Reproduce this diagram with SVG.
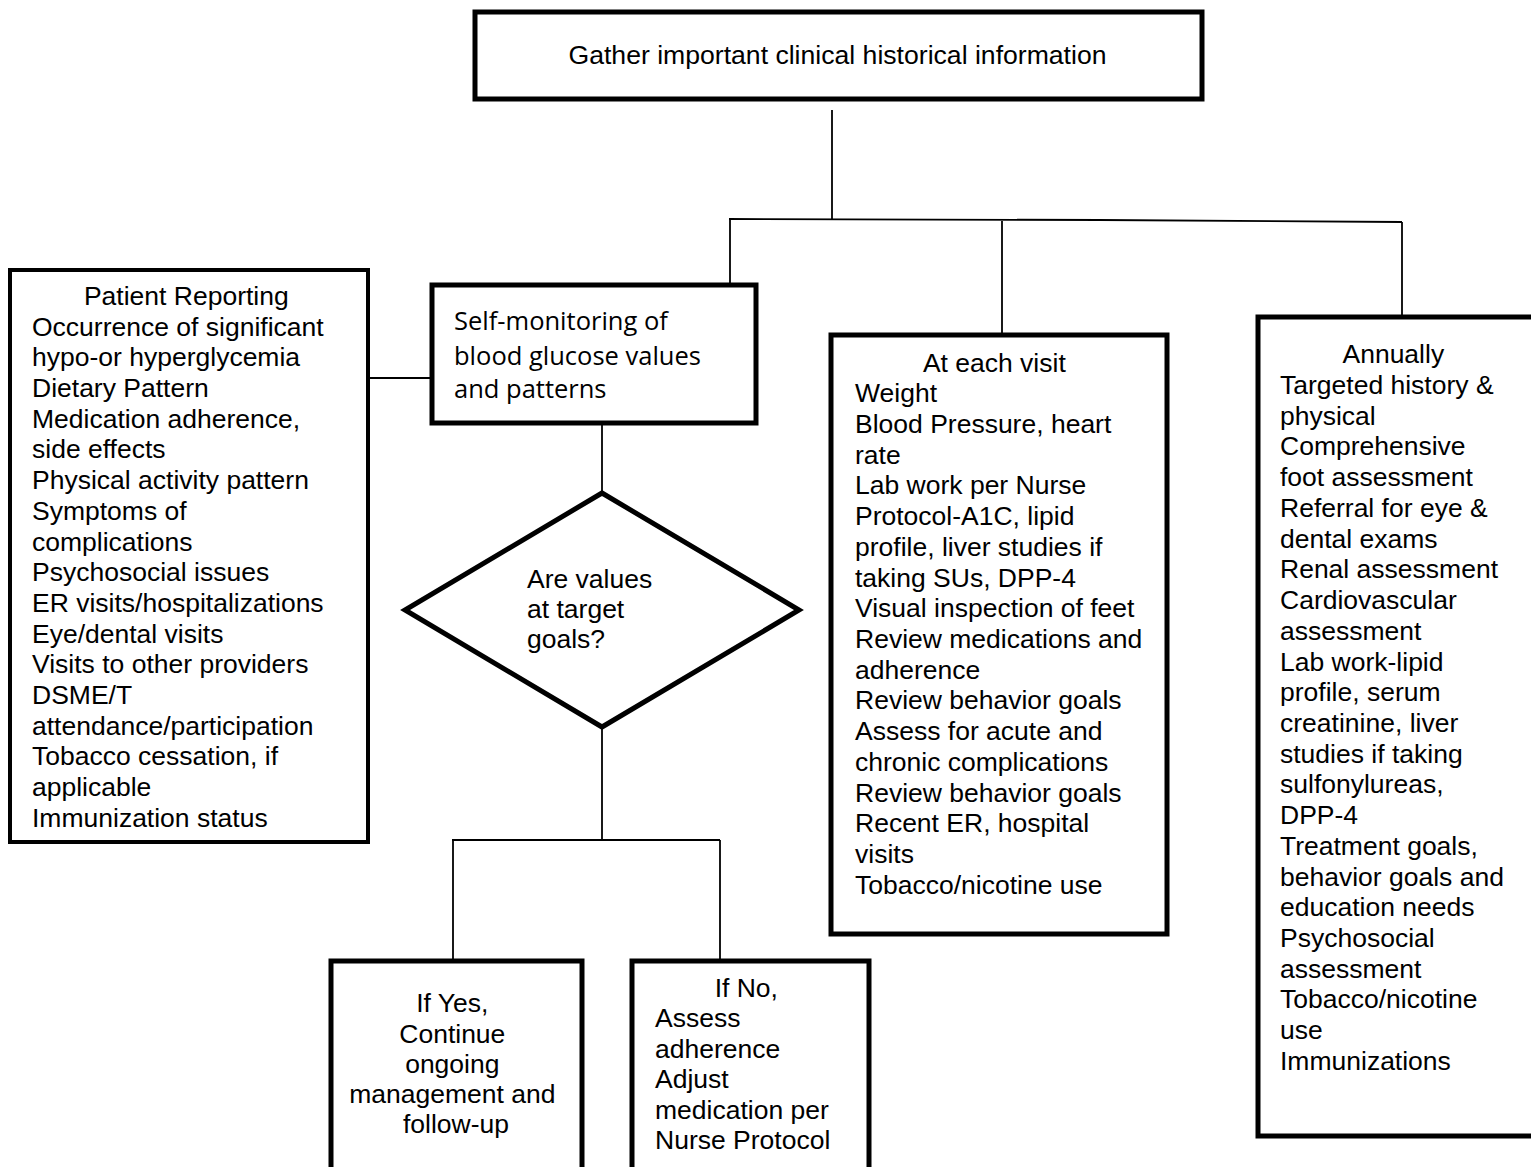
<svg xmlns="http://www.w3.org/2000/svg" width="1531" height="1167" viewBox="0 0 1531 1167">
<style>
.box{fill:#fff;stroke:#000;stroke-width:5}
.thin{stroke-width:4}
.ln{stroke:#000;stroke-width:1.8;fill:none}
.t{font-family:"Liberation Sans",Arial,sans-serif;font-size:26.5px;fill:#000}
.c{text-anchor:middle}
.cal{font-family:"Open Sans","Noto Sans",sans-serif;font-size:25.5px;fill:#000}
</style>
<rect width="1531" height="1167" fill="#fff"/>
<g id="connectors">
<line class="ln" x1="832" y1="110" x2="832" y2="219"/>
<polyline class="ln" points="729,219 1100,220 1402,222"/>
<line class="ln" x1="730" y1="219" x2="730" y2="285"/>
<line class="ln" x1="1002" y1="221" x2="1002" y2="335"/>
<line class="ln" x1="1402" y1="222" x2="1402" y2="317"/>
<line class="ln" x1="368" y1="378" x2="432" y2="378"/>
<line class="ln" x1="602" y1="423" x2="602" y2="493"/>
<line class="ln" x1="602" y1="727" x2="602" y2="840"/>
<line class="ln" x1="452" y1="840" x2="720" y2="840"/>
<line class="ln" x1="453" y1="840" x2="453" y2="961"/>
<line class="ln" x1="720" y1="840" x2="720" y2="961"/>
</g>
<g id="gather">
<rect class="box" x="475" y="12" width="727" height="87"/>
<text class="t c" x="837.5" y="64" style="font-size:26.6px">Gather important clinical historical information</text>
</g>
<g id="patient-reporting">
<rect class="box thin" x="10" y="270" width="358" height="572"/>
<text class="t">
<tspan x="190" y="305" text-anchor="middle">Patient Reporting</tspan>
<tspan x="32" y="336">Occurrence of significant</tspan>
<tspan x="32" y="366">hypo-or hyperglycemia</tspan>
<tspan x="32" y="397">Dietary Pattern</tspan>
<tspan x="32" y="428">Medication adherence,</tspan>
<tspan x="32" y="458">side effects</tspan>
<tspan x="32" y="489">Physical activity pattern</tspan>
<tspan x="32" y="520">Symptoms of</tspan>
<tspan x="32" y="551">complications</tspan>
<tspan x="32" y="581">Psychosocial issues</tspan>
<tspan x="32" y="612">ER visits/hospitalizations</tspan>
<tspan x="32" y="643">Eye/dental visits</tspan>
<tspan x="32" y="673">Visits to other providers</tspan>
<tspan x="32" y="704">DSME/T</tspan>
<tspan x="32" y="735">attendance/participation</tspan>
<tspan x="32" y="765">Tobacco cessation, if</tspan>
<tspan x="32" y="796">applicable</tspan>
<tspan x="32" y="827">Immunization status</tspan>
</text>
</g>
<g id="self-monitoring">
<rect class="box" x="432" y="285" width="324" height="138"/>
<text class="cal">
<tspan x="454" y="330">Self-monitoring of</tspan>
<tspan x="454" y="365">blood glucose values</tspan>
<tspan x="454" y="398">and patterns</tspan>
</text>
</g>
<g id="decision">
<polygon class="box" points="602,493 799,610 602,727 405,610"/>
<text class="t">
<tspan x="527" y="588">Are values</tspan>
<tspan x="527" y="618">at target</tspan>
<tspan x="527" y="648">goals?</tspan>
</text>
</g>
<g id="if-yes">
<rect class="box" x="331" y="961" width="251" height="220"/>
<text class="t c">
<tspan x="456" y="1012">If Yes,</tspan>
<tspan x="456" y="1043">Continue</tspan>
<tspan x="456" y="1073">ongoing</tspan>
<tspan x="456" y="1103">management and</tspan>
<tspan x="456" y="1133">follow-up</tspan>
</text>
</g>
<g id="if-no">
<rect class="box" x="632" y="961" width="237" height="220"/>
<text class="t">
<tspan x="750" y="997" text-anchor="middle">If No,</tspan>
<tspan x="655" y="1027">Assess</tspan>
<tspan x="655" y="1058">adherence</tspan>
<tspan x="655" y="1088">Adjust</tspan>
<tspan x="655" y="1119">medication per</tspan>
<tspan x="655" y="1149">Nurse Protocol</tspan>
</text>
</g>
<g id="each-visit">
<rect class="box" x="831" y="335" width="336" height="599"/>
<text class="t">
<tspan x="998" y="372" text-anchor="middle">At each visit</tspan>
<tspan x="855" y="402">Weight</tspan>
<tspan x="855" y="433">Blood Pressure, heart</tspan>
<tspan x="855" y="464">rate</tspan>
<tspan x="855" y="494">Lab work per Nurse</tspan>
<tspan x="855" y="525">Protocol-A1C, lipid</tspan>
<tspan x="855" y="556">profile, liver studies if</tspan>
<tspan x="855" y="587">taking SUs, DPP-4</tspan>
<tspan x="855" y="617">Visual inspection of feet</tspan>
<tspan x="855" y="648">Review medications and</tspan>
<tspan x="855" y="679">adherence</tspan>
<tspan x="855" y="709">Review behavior goals</tspan>
<tspan x="855" y="740">Assess for acute and</tspan>
<tspan x="855" y="771">chronic complications</tspan>
<tspan x="855" y="802">Review behavior goals</tspan>
<tspan x="855" y="832">Recent ER, hospital</tspan>
<tspan x="855" y="863">visits</tspan>
<tspan x="855" y="894">Tobacco/nicotine use</tspan>
</text>
</g>
<g id="annually">
<rect class="box" x="1258" y="317" width="300" height="819"/>
<text class="t">
<tspan x="1397" y="363" text-anchor="middle">Annually</tspan>
<tspan x="1280" y="394">Targeted history &amp;</tspan>
<tspan x="1280" y="425">physical</tspan>
<tspan x="1280" y="455">Comprehensive</tspan>
<tspan x="1280" y="486">foot assessment</tspan>
<tspan x="1280" y="517">Referral for eye &amp;</tspan>
<tspan x="1280" y="548">dental exams</tspan>
<tspan x="1280" y="578">Renal assessment</tspan>
<tspan x="1280" y="609">Cardiovascular</tspan>
<tspan x="1280" y="640">assessment</tspan>
<tspan x="1280" y="671">Lab work-lipid</tspan>
<tspan x="1280" y="701">profile, serum</tspan>
<tspan x="1280" y="732">creatinine, liver</tspan>
<tspan x="1280" y="763">studies if taking</tspan>
<tspan x="1280" y="793">sulfonylureas,</tspan>
<tspan x="1280" y="824">DPP-4</tspan>
<tspan x="1280" y="855">Treatment goals,</tspan>
<tspan x="1280" y="886">behavior goals and</tspan>
<tspan x="1280" y="916">education needs</tspan>
<tspan x="1280" y="947">Psychosocial</tspan>
<tspan x="1280" y="978">assessment</tspan>
<tspan x="1280" y="1008">Tobacco/nicotine</tspan>
<tspan x="1280" y="1039">use</tspan>
<tspan x="1280" y="1070">Immunizations</tspan>
</text>
</g>
</svg>
